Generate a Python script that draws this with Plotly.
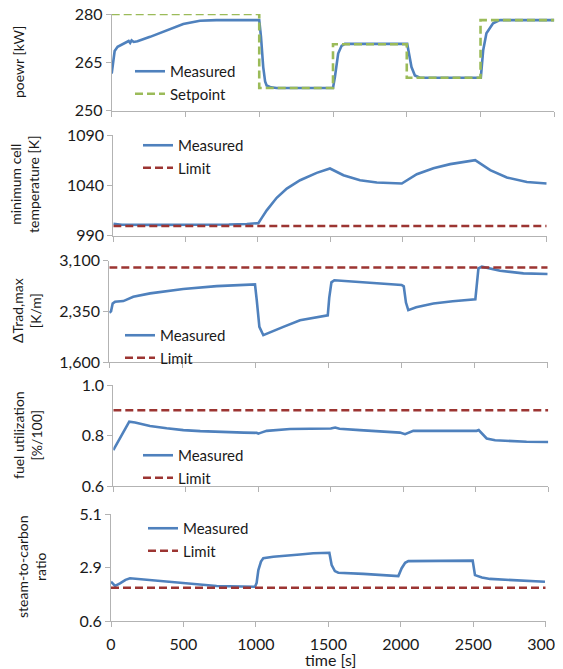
import plotly.graph_objects as go

# ---------------- data ----------------
time_ticks = [0, 500, 1000, 1500, 2000, 2500, 3000]
time_ticklabels = ["0", "500", "1000", "1500", "2000", "2500", "3000"]

# panel 1: power
power_t = [0, 8, 20, 40, 60, 80, 100, 115, 125, 135, 150, 175, 260, 372, 485, 598, 710,
           1000, 1012, 1027, 1040, 1050, 1080, 1118, 1500, 1513, 1524, 1535, 1558, 1580,
           2003, 2016, 2032, 2055, 2089, 2502, 2518, 2540, 2585, 2631, 3000]
power_meas = [261.5, 265.0, 268.5, 269.8, 270.3, 270.8, 271.2, 271.6, 271.0, 271.8, 271.3, 271.5,
              272.9, 275.0, 276.9, 277.9, 278.1, 278.1, 272.9, 263.5, 259.0, 257.8, 257.2, 257.0,
              257.0, 260.4, 264.6, 267.7, 270.1, 270.7, 270.7, 267.7, 263.5, 260.9, 260.2, 260.2,
              268.75, 274.0, 277.1, 278.1, 278.1]
setpoint_t = [0, 1000, 1500, 2000, 2500, 3000]
setpoint_v = [280.0, 257.0, 270.6, 260.2, 278.1, 278.1]
power_ticks = [250, 265, 280]
power_ticklabels = ["250", "265", "280"]

# panel 2: minimum cell temperature
temp_t = [0, 30, 60, 300, 600, 800, 924, 1004, 1030, 1062, 1131, 1201, 1293, 1408, 1500,
          1593, 1708, 1824, 1997, 2101, 2216, 2332, 2505, 2609, 2724, 2863, 3000]
temp_meas = [1001.7, 1001.0, 1000.7, 1000.6, 1000.6, 1001.0, 1001.5, 1002.3, 1008.0, 1015.0,
             1027.5, 1036.7, 1045.0, 1052.3, 1056.7, 1050.0, 1045.0, 1042.7, 1041.7, 1051.0,
             1057.0, 1061.0, 1065.0, 1055.0, 1047.7, 1043.3, 1041.7]
temp_limit = 999.5
temp_ticks = [990, 1040, 1090]
temp_ticklabels = ["990", "1040", "1090"]

# panel 3: max radial temperature gradient
grad_t = [0, 5, 12, 23, 39, 96, 130, 164, 279, 506, 735, 997, 1009, 1027, 1054, 1120, 1191,
          1305, 1400, 1495, 1505, 1520, 1540, 1600, 1800, 2000, 2015, 2030, 2046, 2100, 2218,
          2350, 2505, 2526, 2549, 2600, 2674, 2834, 3000]
grad_meas = [2330, 2345, 2350, 2467, 2491, 2502, 2530, 2565, 2616, 2680, 2724, 2749, 2516, 2120,
             1997, 2060, 2120, 2219, 2260, 2290, 2550, 2780, 2810, 2800, 2770, 2740, 2720, 2480,
             2368, 2410, 2467, 2500, 2527, 2987, 3011, 2985, 2951, 2913, 2902]
grad_limit = 3000
grad_ticks = [1600, 2350, 3100]
grad_ticklabels = ["1,600", "2,350", "3,100"]

# panel 4: fuel utilization
fu_t = [0, 110, 150, 253, 368, 483, 600, 713, 900, 989, 1000, 1020, 1058, 1219, 1400, 1500,
        1530, 1560, 1700, 1850, 1977, 2012, 2040, 2069, 2300, 2506, 2520, 2550, 2575, 2633,
        2736, 2850, 3000]
fu_meas = [0.743, 0.855, 0.852, 0.838, 0.829, 0.822, 0.818, 0.815, 0.812, 0.811, 0.808, 0.812,
           0.819, 0.826, 0.828, 0.828, 0.832, 0.827, 0.822, 0.818, 0.812, 0.806, 0.812, 0.819,
           0.819, 0.819, 0.822, 0.805, 0.789, 0.782, 0.779, 0.776, 0.775]
fu_limit = 0.9
fu_ticks = [0.6, 0.8, 1.0]
fu_ticklabels = ["0.6", "0.8", "1.0"]

# panel 5: steam-to-carbon ratio
sc_t = [0, 28, 62, 100, 131, 269, 499, 729, 994, 1005, 1017, 1035, 1051, 1120, 1304, 1396,
        1507, 1523, 1545, 1569, 1741, 1983, 2006, 2030, 2052, 2271, 2496, 2512, 2560, 2616,
        2777, 2995]
sc_meas = [2.25, 2.08, 2.18, 2.33, 2.40, 2.32, 2.18, 2.07, 2.04, 2.20, 2.74, 3.10, 3.24, 3.30,
           3.40, 3.45, 3.47, 2.95, 2.70, 2.63, 2.58, 2.49, 2.82, 3.05, 3.12, 3.14, 3.14, 2.53,
           2.43, 2.37, 2.32, 2.25]
sc_limit = 2.0
sc_ticks = [0.6, 2.85, 5.1]
sc_ticklabels = ["0.6", "2.9", "5.1"]

# ---------------- styling ----------------
# the page body has an 8px margin, so the figure is drawn 8px smaller and all
# screen positions below are shifted by that offset
OFF = 8
W, H = 563 - OFF, 669 - OFF
FONT = "Lato, 'Open Sans', sans-serif"
TXT = "#1a1a1a"
AX = "#b3b3b3"
BLUE = "#4f81bd"
GREEN = "#9bbb59"
RED = "#9c3532"
DASH = "8px,4px"


def fx(px):
    return (px - OFF) / W


def fy(py):
    return 1 - (py - OFF) / H


# screen geometry of each panel: (x_left, x_right, y_top, y_bottom)
panels = [
    (111.7, 554.3, 14.0, 110.5),
    (113.3, 546.7, 135.0, 235.5),
    (109.3, 547.7, 260.7, 362.0),
    (113.3, 548.3, 385.0, 486.3),
    (111.0, 545.7, 514.0, 621.0),
]

fig = go.Figure()

series = [
    (power_t, power_meas, "Setpoint", setpoint_t, setpoint_v, GREEN, "hv"),
    (temp_t, temp_meas, "Limit", [0, 3000], [temp_limit, temp_limit], RED, "linear"),
    (grad_t, grad_meas, "Limit", [0, 3000], [grad_limit, grad_limit], RED, "linear"),
    (fu_t, fu_meas, "Limit", [0, 3000], [fu_limit, fu_limit], RED, "linear"),
    (sc_t, sc_meas, "Limit", [0, 3000], [sc_limit, sc_limit], RED, "linear"),
]

yinfo = [
    ([250, 280], power_ticks, power_ticklabels),
    ([990, 1090], temp_ticks, temp_ticklabels),
    ([1600, 3100], grad_ticks, grad_ticklabels),
    ([0.6, 1.0], fu_ticks, fu_ticklabels),
    ([0.6, 5.1], sc_ticks, sc_ticklabels),
]

# legend placement (screen: left, top)
legend_pos = [(130, 55), (138, 129), (120, 319), (138, 439), (143, 512)]

layout = dict(
    width=W, height=H,
    margin=dict(l=0, r=0, t=0, b=0, autoexpand=False),
    paper_bgcolor="white", plot_bgcolor="white",
    font=dict(family=FONT, color=TXT, size=16),
    showlegend=True,
)

for i, (pt, pv, name2, t2, v2, c2, shape2) in enumerate(series):
    k = "" if i == 0 else str(i + 1)
    leg = "legend" if i == 0 else f"legend{i + 1}"
    xl, xr, yt, yb = panels[i]
    fig.add_trace(go.Scatter(x=pt, y=pv, mode="lines", name="Measured",
                             line=dict(color=BLUE, width=2.6),
                             xaxis="x" + k, yaxis="y" + k, legend=leg))
    fig.add_trace(go.Scatter(x=t2, y=v2, mode="lines", name=name2,
                             line=dict(color=c2, width=2.6, dash=DASH, shape=shape2),
                             xaxis="x" + k, yaxis="y" + k, legend=leg))
    last = (i == 4)
    layout["xaxis" + k] = dict(
        domain=[fx(xl), fx(xr)], anchor="y" + k, range=[0, 3000],
        tickmode="array", tickvals=time_ticks, ticktext=time_ticklabels,
        showticklabels=last, ticks="outside", ticklen=5, tickcolor=AX,
        showline=True, linecolor=AX, linewidth=1, showgrid=False, zeroline=False,
        tickfont=dict(size=16, color=TXT), automargin=False, ticklabeloverflow="allow",
        ticklabelstandoff=4,
    )
    yr, ytv, ytt = yinfo[i]
    layout["yaxis" + k] = dict(
        domain=[fy(yb), fy(yt)], anchor="x" + k, range=yr,
        tickmode="array", tickvals=ytv, ticktext=ytt,
        ticks="outside", ticklen=5, tickcolor=AX,
        showline=True, linecolor=AX, linewidth=1, showgrid=False, zeroline=False,
        tickfont=dict(size=16, color=TXT), automargin=False, ticklabeloverflow="allow",
    )
    lx, ly = legend_pos[i]
    layout[leg] = dict(x=fx(lx), y=fy(ly), xanchor="left", yanchor="top",
                       xref="paper", yref="paper",
                       bgcolor="rgba(0,0,0,0)", font=dict(size=15, color=TXT),
                       tracegroupgap=0)

fig.update_layout(**layout)

# y-axis titles as rotated annotations (screen x center, y center)
ytitles = [
    ("poewr [kW]", 18, 62),
    ("minimum cell<br>temperature [K]", 25, 185),
    ("ΔTrad,max<br>[K/m]", 26, 311),
    ("fuel utilization<br>[%/100]", 27, 435),
    ("steam-to-carbon<br>ratio", 31, 567),
]
for txt, px, py in ytitles:
    fig.add_annotation(text=txt, x=fx(px), y=fy(py), xref="paper", yref="paper",
                       textangle=-90, showarrow=False, xanchor="center", yanchor="middle",
                       font=dict(size=14, color=TXT, family=FONT))

fig.add_annotation(text="time [s]", x=fx(330), y=fy(659), xref="paper", yref="paper",
                   showarrow=False, xanchor="center", yanchor="middle",
                   font=dict(size=16, color=TXT, family=FONT))

fig.write_html("out.html")
